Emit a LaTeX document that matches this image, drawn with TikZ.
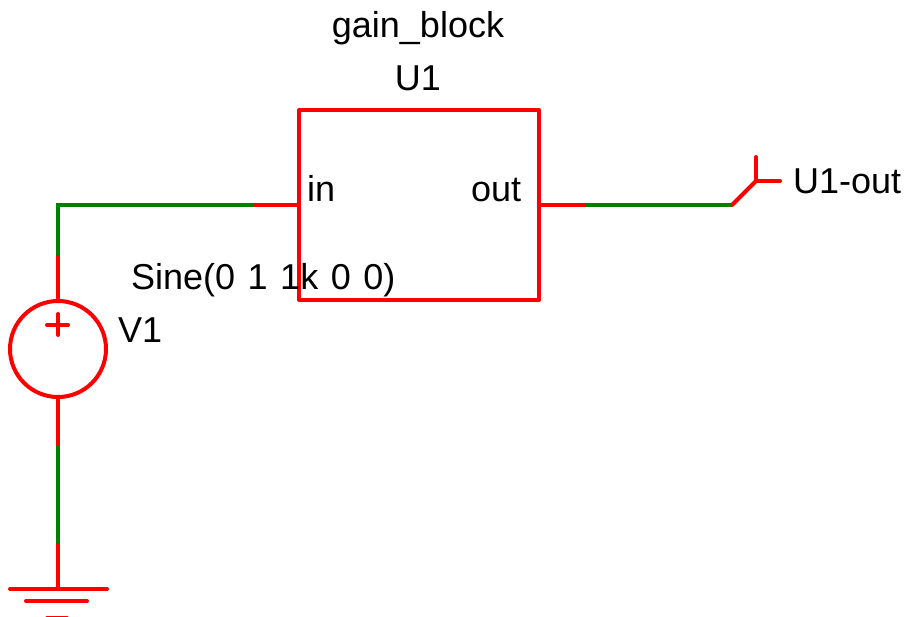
\documentclass[tikz,border=0pt]{standalone}
\usepackage{fontspec}
\setmainfont{Liberation Sans}
\newcommand{\sinegap}{\hspace{12.5pt}}
\tikzset{
    wirered/.style={draw=red,line width=4pt,line cap=round,line join=round},
    wiregreen/.style={draw=black!50!green,line width=4pt,line cap=butt,line join=miter},
    schtext/.style={anchor=base west,inner sep=0pt,font=\fontsize{36}{36}\selectfont},
    schmid/.style={schtext,anchor=base}
}
\begin{document}
\begin{tikzpicture}[x=1pt,y=-1pt]
    \useasboundingbox (0,0) rectangle (907,616);
    \clip (0,0) rectangle (907,616);
    %% Block
    \node[wirered,rectangle,minimum width=240pt,minimum height=190pt,inner sep=0pt,outer sep=0pt] (block) at (419,205) {};
    %% Source
    \node[wirered,circle,minimum size=96pt,inner sep=0pt,outer sep=0pt] (source) at (58,349) {};
    \coordinate (plusl) at (47,325);
    \coordinate (plusr) at (68,325);
    \coordinate (plust) at (58,314);
    \coordinate (plusb) at (58,335);
    \draw[wirered] (plusl) -- (plusr);
    \draw[wirered] (plust) -- (plusb);
    %% Ground
    \coordinate (gnd) at (58,589);
    \coordinate (gndal) at (10,589);
    \coordinate (gndar) at (107,589);
    \coordinate (gndbl) at (26,601);
    \coordinate (gndbr) at (87,601);
    \coordinate (gndcl) at (47,618);
    \coordinate (gndcr) at (67,618);
    \draw[wirered] (gndal) -- (gndar);
    \draw[wirered] (gndbl) -- (gndbr);
    \draw[wirered] (gndcl) -- (gndcr);
    %% Input wire
    \coordinate (corner) at (58,205);
    \coordinate (upa) at (58,255);
    \coordinate (ina) at (253,205);
    \draw[wirered] (source.north) -- (upa);
    \draw[wirered] (ina) -- (block.west);
    \draw[wiregreen] (upa) -- (corner) -- (ina);
    %% Ground wire
    \coordinate (lowa) at (58,445);
    \coordinate (lowb) at (58,543);
    \draw[wirered] (source.south) -- (lowa);
    \draw[wirered] (lowb) -- (gnd);
    \draw[wiregreen] (lowa) -- (lowb);
    %% Output wire and probe
    \coordinate (outa) at (585,205);
    \coordinate (outb) at (732,205);
    \coordinate (probe) at (756,181);
    \coordinate (probet) at (756,157);
    \coordinate (prober) at (780,181);
    \draw[wirered] (block.east) -- (outa);
    \draw[wirered] (outb) -- (probe);
    \draw[wirered] (probe) -- (probet);
    \draw[wirered] (probe) -- (prober);
    \draw[wiregreen] (outa) -- (outb);
    %% Labels
    \node[schmid] (blockname) at (418,37) {gain\_block};
    \node[schmid] (blockref) at (418,90) {U1};
    \node[schtext] (inlabel) at (307,201) {in};
    \node[schtext] (outlabel) at (471,201) {out};
    \node[schtext] (sinelabel) at (131,289) {Sine(0\sinegap 1\sinegap 1k\sinegap 0\sinegap 0)};
    \node[schtext] (vlabel) at (118,342) {V1};
    \node[schtext] (probelabel) at (793,193) {U1-out};
\end{tikzpicture}
\end{document}
